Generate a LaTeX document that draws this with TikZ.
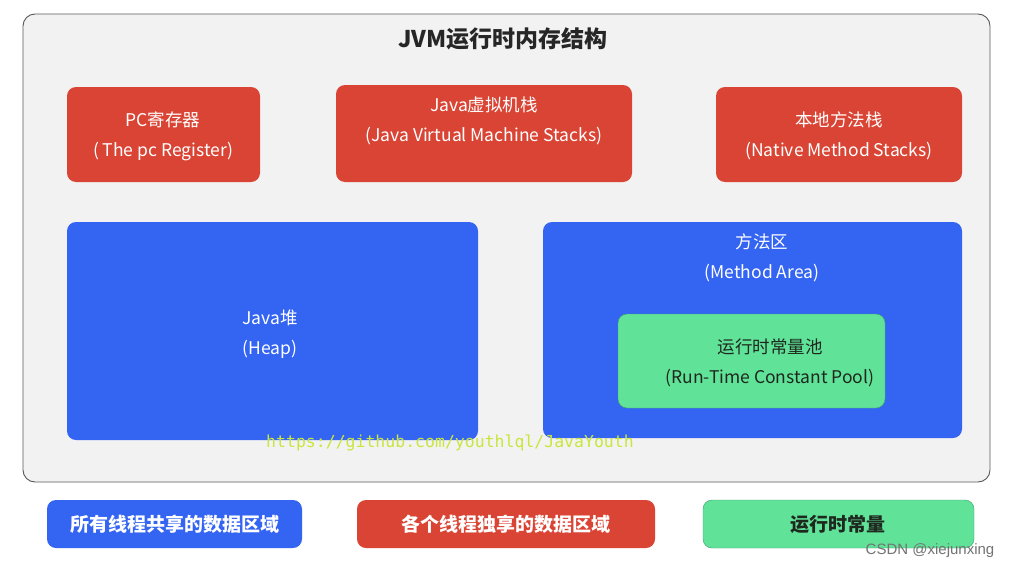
\documentclass[tikz,border=0pt]{standalone}
\usepackage{fontspec}
\setmainfont{Noto Sans CJK SC}
\newfontfamily\monofont{DejaVu Sans Mono}
\newfontfamily\wmfont{Liberation Sans}
\definecolor{frame}{RGB}{242,242,242}
\definecolor{redbox}{RGB}{218,68,52}
\definecolor{bluebox}{RGB}{52,100,242}
\definecolor{greenbox}{RGB}{96,226,152}
\definecolor{darktext}{RGB}{30,40,30}
\definecolor{wmark}{RGB}{200,230,60}
\tikzset{
  region/.style={rounded corners=9pt, draw=none},
  redregion/.style={region, fill=redbox},
  blueregion/.style={region, fill=bluebox},
  greenregion/.style={region, fill=greenbox, draw=greenbox!70!black, line width=0.4pt},
  light/.style={text=white, font=\fontsize{17.5}{30}\selectfont, align=center},
  dark/.style={text=darktext, font=\fontsize{17.5}{30}\selectfont, align=center},
  legendlight/.style={text=white, font=\bfseries\fontsize{19}{22}\selectfont},
  legenddark/.style={text=darktext, font=\bfseries\fontsize{19}{22}\selectfont},
}
\begin{document}
\begin{tikzpicture}[x=1pt,y=-1pt]
\useasboundingbox (0,0) rectangle (1009,570);
\fill[white] (0,0) rectangle (1009,570);
% outer frame
\draw[fill=frame, draw=black!65, line width=0.9pt, rounded corners=12pt] (23,14) rectangle (990,482);
\node[font=\bfseries\fontsize{23}{26}\selectfont, text=black!85] (title) at (503,39) {JVM运行时内存结构};
% thread-private regions
\draw[redregion] (67,87) rectangle (260,182);
\node[light] (pc) at (163,136.5) {PC寄存器\\( The pc Register)};
\draw[redregion] (336,85) rectangle (632,182);
\node[light] (jvms) at (484,121) {Java虚拟机栈\\(Java Virtual Machine Stacks)};
\draw[redregion] (716,87) rectangle (962,182);
\node[light] (nms) at (839,136) {本地方法栈\\(Native Method Stacks)};
% shared regions
\draw[blueregion] (67,222) rectangle (478,440);
\node[light] (heap) at (270,334) {Java堆\\(Heap)};
\draw[blueregion] (543,222) rectangle (962,438);
\node[light] (ma) at (762,257.5) {方法区\\(Method Area)};
\draw[greenregion] (618,314) rectangle (885,408);
\node[dark] (rtcp) at (770,362.5) {运行时常量池\\(Run-Time Constant Pool)};
% watermark
\node[text=wmark, font=\monofont\fontsize{16.5}{18}\selectfont] (wm) at (450,443) {https://github.com/youthlql/JavaYouth};
% legend
\draw[blueregion] (47,500) rectangle (302,548);
\node[legendlight] (l1) at (175,524) {所有线程共享的数据区域};
\draw[redregion] (357,500) rectangle (655,548);
\node[legendlight] (l2) at (506,524) {各个线程独享的数据区域};
\draw[greenregion] (703,500) rectangle (974,548);
\node[legenddark] (l3) at (838,524) {运行时常量};
\node[text=black!55, font=\wmfont\fontsize{15}{17}\selectfont] (csdn) at (930,551) {CSDN @xiejunxing};
\end{tikzpicture}
\end{document}
